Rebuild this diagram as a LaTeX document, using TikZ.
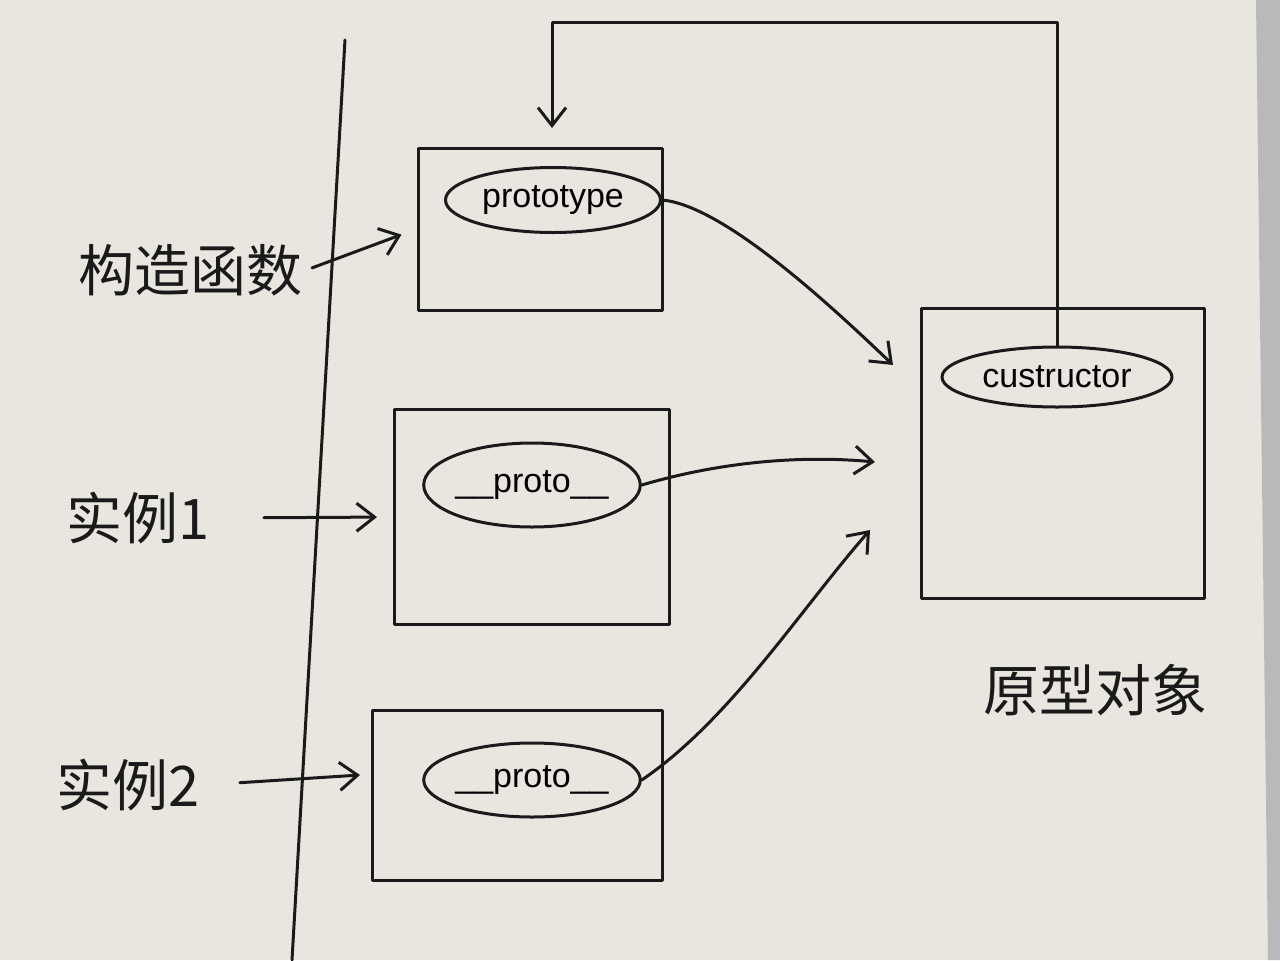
\documentclass[tikz,border=0pt]{standalone}
\usepackage{fontspec}
\newfontfamily\cjk{Noto Sans CJK SC}
\newfontfamily\lat{Liberation Sans}
\usetikzlibrary{arrows.meta,shapes.geometric}
\definecolor{paper}{HTML}{E9E6E0}
\definecolor{ink}{HTML}{1A1A1A}
\tikzset{
  ln/.style={draw=ink, line width=1.5pt, line cap=round, line join=round},
  arr/.style={ln, -{Straight Barb[length=9pt,width=14pt,line width=1.5pt]}},
  box/.style={ln, rectangle, inner sep=0pt},
  oval/.style={ln, ellipse, inner sep=0pt, font=\lat\fontsize{17}{20}\selectfont},
  lbl/.style={font=\cjk\fontsize{28}{32}\selectfont, text=ink, inner sep=2pt}
}
\begin{document}
\begin{tikzpicture}[x=0.5pt,y=-0.5pt]
\useasboundingbox (0,0) rectangle (1280,960);
\fill[paper] (0,0) rectangle (1280,960);
\fill[gray!55] (1256,0) -- (1280,0) -- (1280,960) -- (1268,960) -- cycle;

% divider
\coordinate (v1) at (345,40);
\coordinate (v2) at (292,960);
\draw[ln] (v1) -- (v2);

% boxes
\node[box, minimum width=122pt, minimum height=81pt] (B1) at (540,229) {};
\node[box, minimum width=137.5pt, minimum height=107.5pt] (B2) at (532,517) {};
\node[box, minimum width=145pt, minimum height=85pt] (B3) at (517,795) {};
\node[box, minimum width=141.5pt, minimum height=145pt] (B4) at (1063,453) {};

% ovals
\node[oval, minimum width=107.5pt, minimum height=32.5pt] (E1) at (553,200) {prototype};
\node[oval, minimum width=104pt, minimum height=42pt] (E2) at (532,485) {\_\_proto\_\_};
\node[oval, minimum width=102pt, minimum height=37pt] (E3) at (532,780) {\_\_proto\_\_};
\node[oval, minimum width=115pt, minimum height=30pt] (E4) at (1057,377) {custructor};

% labels
\node[lbl] (L1) at (190,270) {构造函数};
\node[lbl] (L2) at (138,518) {实例1};
\node[lbl] (L3) at (128,785) {实例2};
\node[lbl] (L4) at (1095,690) {原型对象};

% label arrows
\coordinate (t5) at (360,775);
\draw[arr, shorten <=3pt, shorten >=8pt] (L1.east) -- (B1.west);
\draw[arr, shorten <=25pt, shorten >=8pt] (L2.east) -- (B2.west);
\draw[arr, shorten <=18pt] (L3.east) -- (t5);

% targets on prototype object
\coordinate (t1) at (893,365);
\coordinate (t2) at (875,462);
\coordinate (t3) at (870,530);
\draw[arr] (E1.east) .. controls (720,205) and (820,295) .. (t1);
\draw[arr] (E2.east) .. controls (720,462) and (800,455) .. (t2);
\draw[arr] (E3.east) .. controls (730,720) and (800,610) .. (t3);

% constructor loop back to prototype
\coordinate (c2) at (552,22);
\coordinate (t4) at (552,128);
\draw[arr] (E4.north) |- (c2) -- (t4);
\end{tikzpicture}
\end{document}
